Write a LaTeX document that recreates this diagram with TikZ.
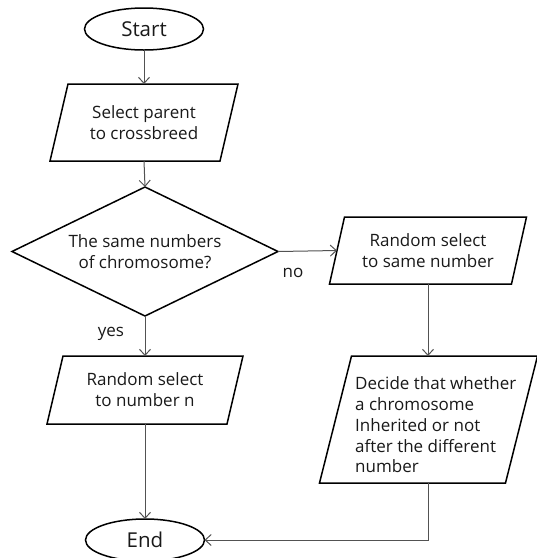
\documentclass[tikz,border=0pt]{standalone}
\usepackage{fontspec}
\setmainfont{Open Sans}
\usetikzlibrary{shapes.geometric,arrows.meta,calc}

\tikzset{
  boxline/.style={draw=black, line width=1.5pt},
  label text/.style={font=\fontsize{17}{20.8}\selectfont, text=black!90},
  term/.style={ellipse, boxline, font=\fontsize{20.5}{24}\selectfont, text=black!90,
    minimum width=119pt, minimum height=42pt, inner sep=0pt, outer sep=0pt},
  iobox/.style={rectangle, label text, align=center, inner sep=0pt, outer sep=0pt},
  choice/.style={diamond, boxline, label text, align=center, aspect=2.06,
    minimum width=266pt, minimum height=129pt, inner sep=0pt, outer sep=0pt},
  conn/.style={draw=black!68, line width=1pt,
    -{Straight Barb[length=6pt,width=11pt]}},
}

% parallelogram drawn around a rectangular node: #1 node name, #2 half slant
\newcommand\slantbox[2]{%
  \draw[boxline, line join=miter]
    ($(#1.north west)+(#2,0)$) -- ($(#1.north east)+(#2,0)$) --
    ($(#1.south east)-(#2,0)$) -- ($(#1.south west)-(#2,0)$) -- cycle;}

\begin{document}
\begin{tikzpicture}[x=1pt, y=-1pt]
  \useasboundingbox (0,0) rectangle (537,558);

  % terminals
  \node[term] (start) at (144,29) {Start};
  \node[term] (end) at (145,540) {End};

  % input / process boxes
  \node[iobox, minimum width=170pt, minimum height=77pt] (parent) at (144,122.5)
    {Select parent\\to crossbreed};
  \slantbox{parent}{9}

  \node[choice] (same) at (145,251.5) {The same numbers\\of chromosome?};

  \node[iobox, minimum width=182pt, minimum height=67pt] (pickn) at (428,250.5)
    {Random select\\to same number};
  \slantbox{pickn}{7.5}

  \node[iobox, minimum width=180pt, minimum height=68pt] (picknum) at (145,390)
    {Random select\\to number n};
  \slantbox{picknum}{8}

  \node[iobox, minimum width=186pt, minimum height=127pt] (decide) at (428.5,419.5) {};
  \slantbox{decide}{16}
  \node[label text, align=left, inner sep=0pt, anchor=west] (decidetext) at (355,425)
    {Decide that whether\\a chromosome\\Inherited or not\\after the different\\number};

  % branch labels
  \node[label text, inner sep=0pt] (nolabel) at (293,273) {no};
  \node[label text, inner sep=0pt] (yeslabel) at (111,334) {yes};

  % connectors
  \draw[conn] (start.south) -- (parent.north);
  \draw[conn] (parent.south) -- (same.north);
  \draw[conn] (same.east) -- (pickn.west);
  \draw[conn] (same.south) -- (picknum.north);
  \draw[conn] (pickn.south) -- (pickn.south |- decide.north);
  \draw[conn] (picknum.south) -- (end.north);
  \draw[conn] (pickn.south |- decide.south) |- (end.east);
\end{tikzpicture}
\end{document}
